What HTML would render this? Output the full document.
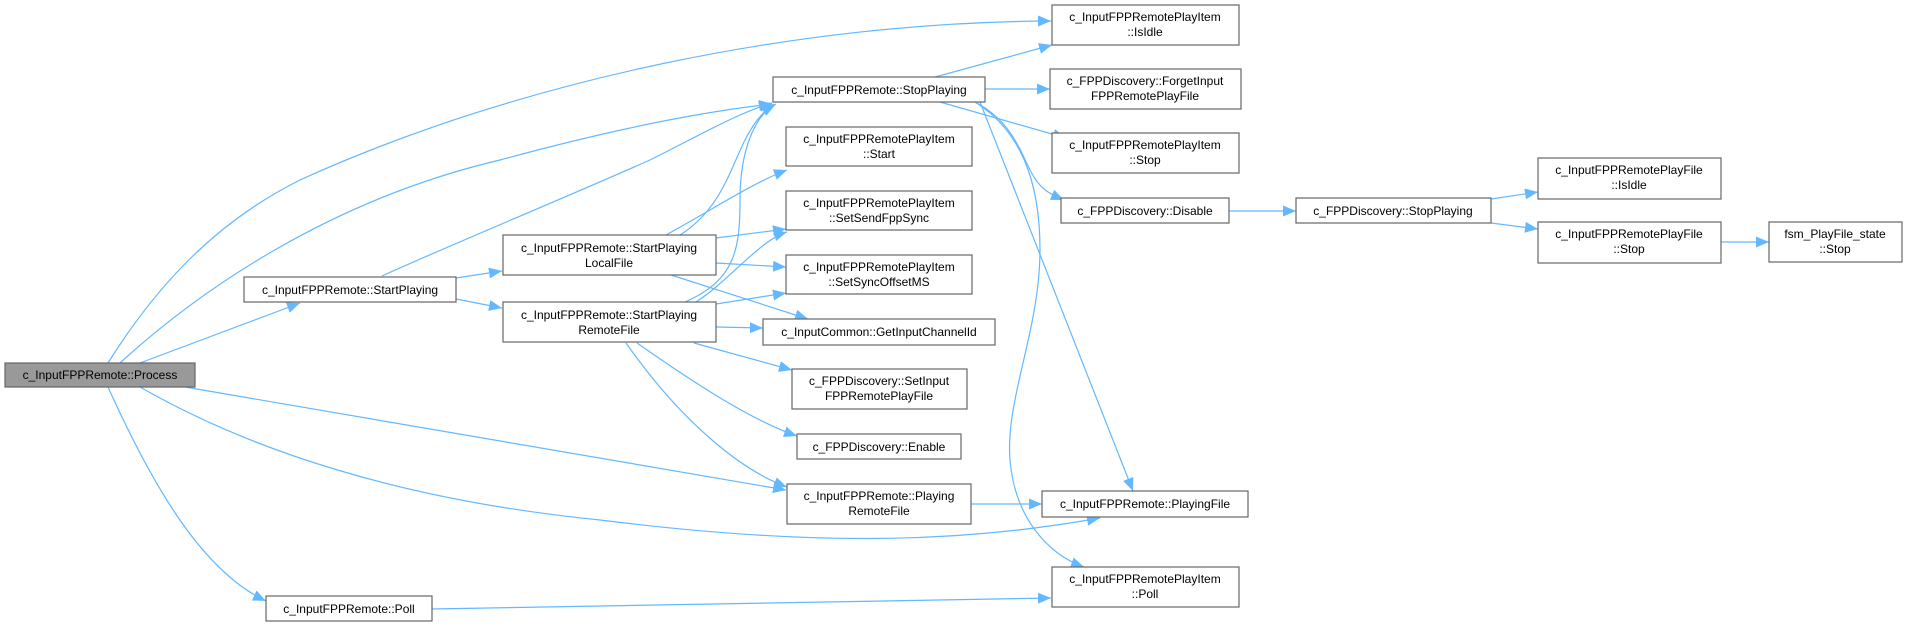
<!DOCTYPE html>
<html><head><meta charset="utf-8"><style>
html,body{margin:0;padding:0;background:#fff;}
svg{display:block;}
text{font-family:"Liberation Sans",Arial,sans-serif;font-size:12px;fill:#000;text-anchor:middle;}
.b{fill:#fff;stroke:#666;stroke-width:1.2;}
.e{fill:none;stroke:#63b8ff;stroke-width:1.2;}
</style></head><body>
<svg width="1908" height="630" viewBox="0 0 1908 630" xmlns="http://www.w3.org/2000/svg">
<defs>
<marker id="a" markerUnits="userSpaceOnUse" markerWidth="14" markerHeight="11" refX="13" refY="5.5" orient="auto">
<path d="M0,0 L13,5.5 L0,11 z" fill="#63b8ff"/>
</marker>
</defs>
<g marker-end="url(#a)">
<path class="e" d="M108,363 C160,280 220,220 300,180 C520,80 800,22 1051,21"/>
<path class="e" d="M120,363 C200,290 330,200 500,160 C610,130 700,112 772,104"/>
<path class="e" d="M140,363 L300,303"/>
<path class="e" d="M185,387 L786,490"/>
<path class="e" d="M140,387 C250,450 400,500 600,520 C800,545 950,545 1100,518"/>
<path class="e" d="M108,387 C150,480 200,570 266,601"/>
<path class="e" d="M382,276 C450,245 560,200 650,160 C700,135 740,112 772,103"/>
<path class="e" d="M456,278 L502,271"/>
<path class="e" d="M456,299 L502,308"/>
<path class="e" d="M680,235 C720,210 730,170 745,140 C755,120 765,110 774,104"/>
<path class="e" d="M666,235 C720,205 755,182 787,170"/>
<path class="e" d="M716,238 L786,229"/>
<path class="e" d="M716,263 L786,267"/>
<path class="e" d="M671,275 L808,319"/>
<path class="e" d="M685,302 C735,280 740,250 740,200 C740,150 755,115 776,104"/>
<path class="e" d="M696,302 C730,280 760,240 787,232"/>
<path class="e" d="M716,304 L786,293"/>
<path class="e" d="M716,327 L763,328"/>
<path class="e" d="M694,343 L792,370"/>
<path class="e" d="M637,343 C690,380 750,420 797,436"/>
<path class="e" d="M626,343 C680,420 740,470 787,487"/>
<path class="e" d="M971,504 L1042,504"/>
<path class="e" d="M935,77 L1052,45"/>
<path class="e" d="M985,89 L1050,89"/>
<path class="e" d="M940,102 L1066,138"/>
<path class="e" d="M975,102 C1010,120 1020,150 1030,170 C1040,190 1050,194 1064,200"/>
<path class="e" d="M980,102 L1133,491"/>
<path class="e" d="M975,102 C1020,130 1040,180 1040,250 C1040,330 1005,400 1010,460 C1015,520 1050,555 1084,567"/>
<path class="e" d="M1229,211 L1296,211"/>
<path class="e" d="M1491,199 L1538,192"/>
<path class="e" d="M1491,223 L1538,229"/>
<path class="e" d="M1721,242 L1769,242"/>
<path class="e" d="M432,609 L1051,598"/>
</g>
<rect x="5" y="363" width="190" height="24" fill="#999" stroke="#666" stroke-width="1.2"/>
<text x="100" y="379">c_InputFPPRemote::Process</text>
<rect class="b" x="244" y="277" width="212" height="25"/><text x="350" y="294">c_InputFPPRemote::StartPlaying</text>
<rect class="b" x="266" y="596" width="166" height="25"/><text x="349" y="613">c_InputFPPRemote::Poll</text>
<rect class="b" x="503" y="235" width="213" height="40"/><text x="609" y="252">c_InputFPPRemote::StartPlaying</text><text x="609" y="267">LocalFile</text>
<rect class="b" x="503" y="302" width="213" height="40"/><text x="609" y="319">c_InputFPPRemote::StartPlaying</text><text x="609" y="334">RemoteFile</text>
<rect class="b" x="773" y="77" width="212" height="25"/><text x="879" y="94">c_InputFPPRemote::StopPlaying</text>
<rect class="b" x="786" y="127" width="186" height="39"/><text x="879" y="143">c_InputFPPRemotePlayItem</text><text x="879" y="158">::Start</text>
<rect class="b" x="786" y="191" width="186" height="39"/><text x="879" y="207">c_InputFPPRemotePlayItem</text><text x="879" y="222">::SetSendFppSync</text>
<rect class="b" x="786" y="255" width="186" height="39"/><text x="879" y="271">c_InputFPPRemotePlayItem</text><text x="879" y="286">::SetSyncOffsetMS</text>
<rect class="b" x="763" y="319" width="232" height="26"/><text x="879" y="336">c_InputCommon::GetInputChannelId</text>
<rect class="b" x="792" y="369" width="175" height="40"/><text x="879" y="385">c_FPPDiscovery::SetInput</text><text x="879" y="400">FPPRemotePlayFile</text>
<rect class="b" x="797" y="434" width="164" height="25"/><text x="879" y="451">c_FPPDiscovery::Enable</text>
<rect class="b" x="787" y="484" width="184" height="40"/><text x="879" y="500">c_InputFPPRemote::Playing</text><text x="879" y="515">RemoteFile</text>
<rect class="b" x="1052" y="5" width="187" height="40"/><text x="1145" y="21">c_InputFPPRemotePlayItem</text><text x="1145" y="36">::IsIdle</text>
<rect class="b" x="1050" y="69" width="191" height="40"/><text x="1145" y="85">c_FPPDiscovery::ForgetInput</text><text x="1145" y="100">FPPRemotePlayFile</text>
<rect class="b" x="1052" y="133" width="187" height="40"/><text x="1145" y="149">c_InputFPPRemotePlayItem</text><text x="1145" y="164">::Stop</text>
<rect class="b" x="1061" y="198" width="168" height="25"/><text x="1145" y="215">c_FPPDiscovery::Disable</text>
<rect class="b" x="1042" y="491" width="206" height="26"/><text x="1145" y="508">c_InputFPPRemote::PlayingFile</text>
<rect class="b" x="1052" y="567" width="187" height="40"/><text x="1145" y="583">c_InputFPPRemotePlayItem</text><text x="1145" y="598">::Poll</text>
<rect class="b" x="1296" y="198" width="195" height="25"/><text x="1393" y="215">c_FPPDiscovery::StopPlaying</text>
<rect class="b" x="1538" y="158" width="183" height="41"/><text x="1629" y="174">c_InputFPPRemotePlayFile</text><text x="1629" y="189">::IsIdle</text>
<rect class="b" x="1538" y="222" width="183" height="41"/><text x="1629" y="238">c_InputFPPRemotePlayFile</text><text x="1629" y="253">::Stop</text>
<rect class="b" x="1769" y="222" width="133" height="40"/><text x="1835" y="238">fsm_PlayFile_state</text><text x="1835" y="253">::Stop</text>
</svg>
</body></html>
